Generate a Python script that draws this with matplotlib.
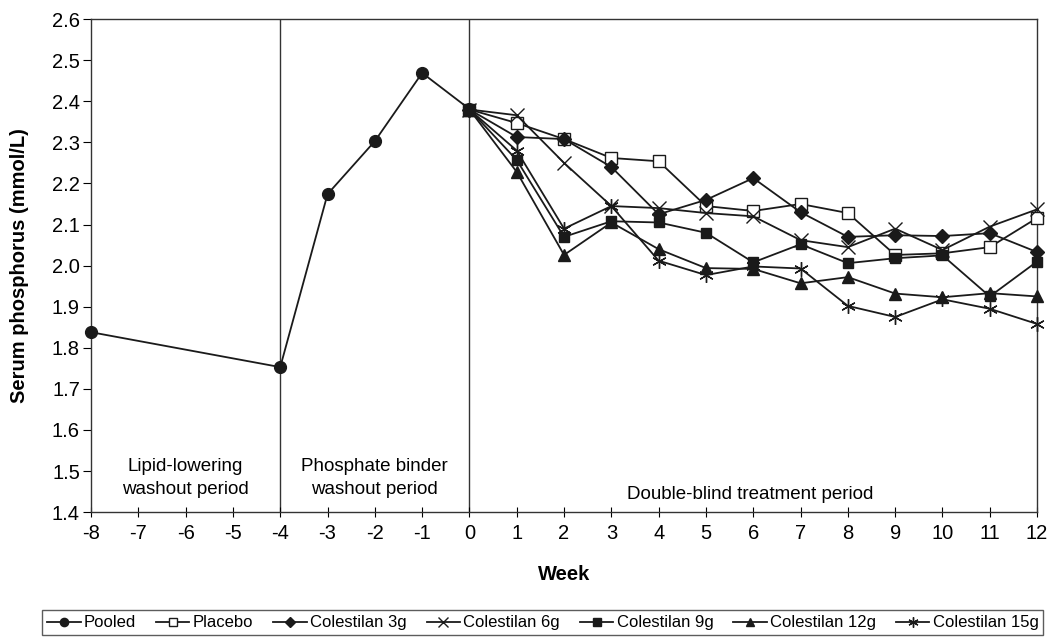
import matplotlib.pyplot as plt
import numpy as np

plt.rcParams['font.family'] = ['Liberation Sans', 'DejaVu Sans']

# Run-in phase (pooled) and double-blind phase weeks
weeks_runin = [-8, -4, -3, -2, -1, 0]
pooled = [1.838, 1.753, 2.174, 2.303, 2.469, 2.381]

weeks = list(range(0, 13))
placebo = [2.38, 2.347, 2.308, 2.262, 2.254, 2.145, 2.133, 2.150, 2.128, 2.026, 2.030, 2.045, 2.116]
col_3g = [2.38, 2.313, 2.308, 2.240, 2.125, 2.160, 2.213, 2.130, 2.070, 2.074, 2.072, 2.079, 2.033]
col_6g = [2.38, 2.366, 2.250, 2.145, 2.140, 2.128, 2.120, 2.062, 2.045, 2.090, 2.038, 2.095, 2.137]
col_9g = [2.38, 2.257, 2.070, 2.108, 2.105, 2.080, 2.008, 2.052, 2.006, 2.018, 2.025, 1.925, 2.010]
col_12g = [2.38, 2.228, 2.026, 2.105, 2.040, 1.994, 1.992, 1.957, 1.972, 1.932, 1.923, 1.933, 1.925]
col_15g = [2.38, 2.280, 2.090, 2.145, 2.012, 1.977, 1.998, 1.993, 1.902, 1.875, 1.918, 1.895, 1.858]

xticks = list(range(-8, 13))
yticks = np.round(np.arange(1.4, 2.61, 0.1), 1)

fig = plt.figure(figsize=(10.5, 6.37), dpi=100)
ax = fig.add_axes([0.0867, 0.196, 0.901, 0.774])

lc = '#1a1a1a'
kw = dict(color=lc, lw=1.3, clip_on=False, zorder=3)

ax.plot(weeks_runin, pooled, marker='o', ms=8.5, mfc=lc, mec=lc, label='Pooled', **kw)
ax.plot(weeks, placebo, marker='s', ms=8.5, mfc='white', mec=lc, mew=1.0, label='Placebo', **kw)
ax.plot(weeks, col_3g, marker='D', ms=7, mfc=lc, mec=lc, label='Colestilan 3g', **kw)
ax.plot(weeks, col_6g, marker='x', ms=9.5, mec=lc, mew=1.0, label='Colestilan 6g', **kw)
ax.plot(weeks, col_9g, marker='s', ms=7.5, mfc=lc, mec=lc, label='Colestilan 9g', **kw)
ax.plot(weeks, col_12g, marker='^', ms=8, mfc=lc, mec=lc, label='Colestilan 12g', **kw)
ax.plot(weeks, col_15g, marker=(6, 2, 0), ms=10.5, mec=lc, mew=1.0, label='Colestilan 15g', **kw)

# period dividers
for xv in (-4, 0):
    ax.axvline(xv, color='#333333', lw=1.0, zorder=1)

ax.set_xlim(-8, 12)
ax.set_ylim(1.4, 2.6)
ax.set_xticks(xticks)
ax.set_xticklabels([str(t) for t in xticks])
ax.set_yticks(yticks)
ax.set_yticklabels([f'{t:.1f}' for t in yticks])
ax.tick_params(axis='y', direction='out', length=6, labelsize=14.5, pad=2)
ax.tick_params(axis='x', direction='inout', length=7, labelsize=14.5, pad=5)
for s in ax.spines.values():
    s.set_color('#333333')
    s.set_linewidth(1.0)

ax.set_ylabel('Serum phosphorus (mmol/L)', fontsize=14.5, fontweight='bold')
ax.set_xlabel('Week', fontsize=14.5, fontweight='bold')
ax.yaxis.set_label_coords(-0.066, 0.5)
ax.xaxis.set_label_coords(0.5, -0.108)

ax.text(-6, 1.483, 'Lipid-lowering\nwashout period', ha='center', va='center',
        fontsize=13.5, linespacing=1.4)
ax.text(-2, 1.483, 'Phosphate binder\nwashout period', ha='center', va='center',
        fontsize=13.5, linespacing=1.4)
ax.text(5.94, 1.444, 'Double-blind treatment period', ha='center', va='center', fontsize=13.5)

leg = fig.legend(loc='center', bbox_to_anchor=(0.517, 0.022), ncol=7, frameon=True,
                 fancybox=False, edgecolor='#333333', handlelength=2.0,
                 handletextpad=0.2, columnspacing=1.2, borderpad=0.3, markerscale=0.7,
                 prop={'size': 12})
leg.get_frame().set_linewidth(1.0)

fig.savefig('out.png', dpi=100)
